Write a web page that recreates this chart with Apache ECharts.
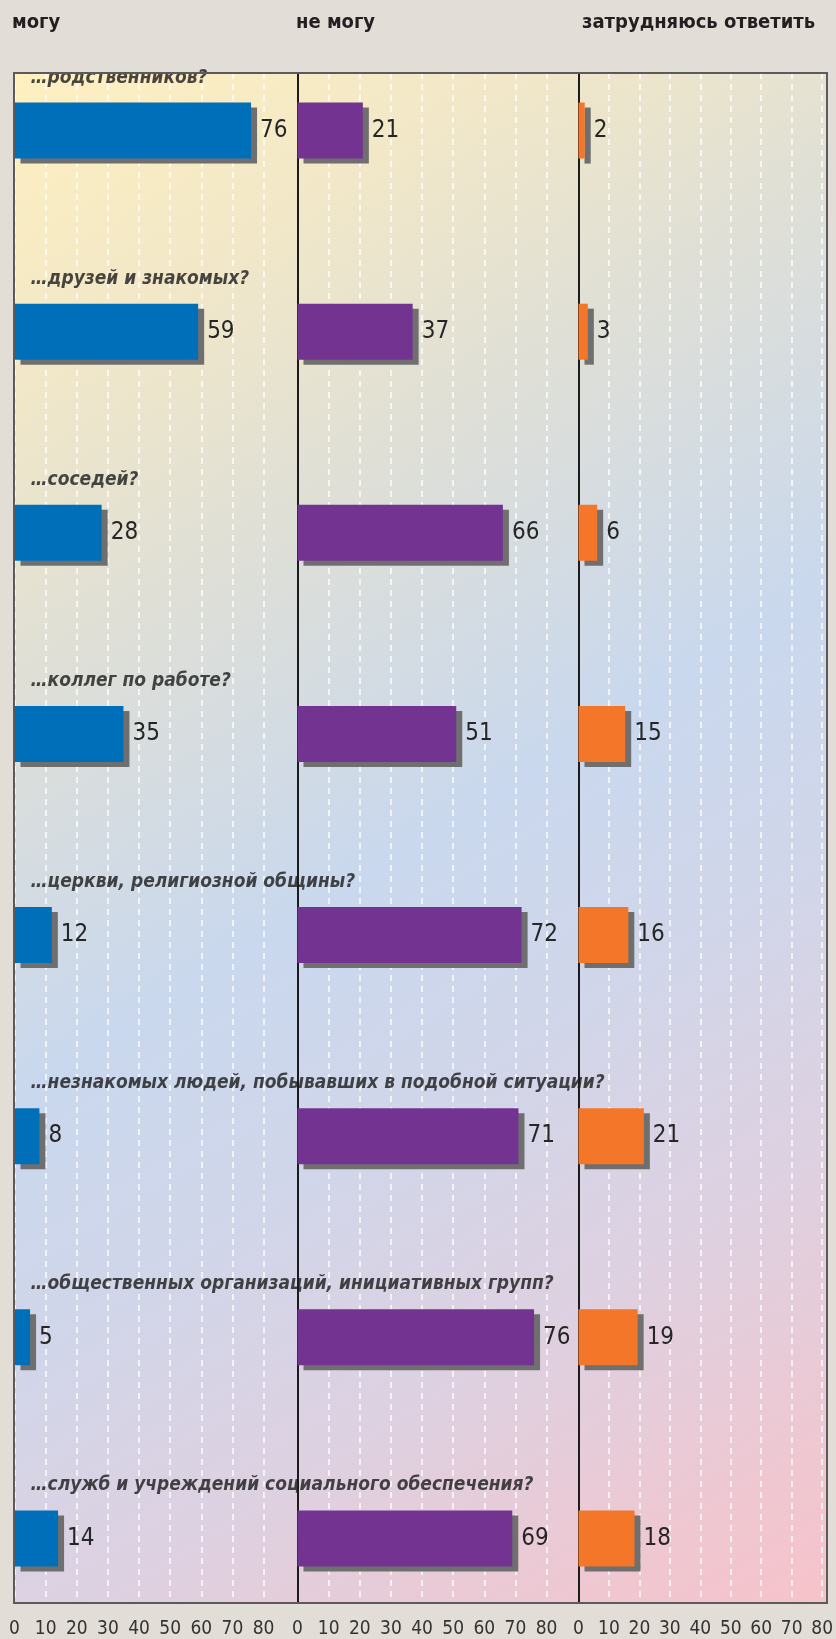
<!DOCTYPE html>
<html>
<head>
<meta charset="utf-8">
<script src="https://cdn.jsdelivr.net/npm/echarts@6/dist/echarts.min.js"></script>
<style>
  html, body { margin: 0; padding: 0; background: #e2ddd6; }
  #chart { width: 836px; height: 1639px; }
</style>
</head>
<body>
<div id="chart"></div>
<script>
// ---- data ----
const categories = [
  '…родственников?',
  '…друзей и знакомых?',
  '…соседей?',
  '…коллег по работе?',
  '…церкви, религиозной общины?',
  '…незнакомых людей, побывавших в подобной ситуации?',
  '…общественных организаций, инициативных групп?',
  '…служб и учреждений социального обеспечения?'
];
const panelTitles = ['могу', 'не могу', 'затрудняюсь ответить'];
const canValues = [76, 59, 28, 35, 12, 8, 5, 14];
const cannotValues = [21, 37, 66, 51, 72, 71, 76, 69];
const hardValues = [2, 3, 6, 15, 16, 21, 19, 18];
const tickValues = [0, 10, 20, 30, 40, 50, 60, 70, 80];

// ---- layout / style ----
const FONT = "'DejaVu Sans Condensed', 'Liberation Sans Narrow', sans-serif";
const panelLeft = [14.5, 297.5, 578.5];
const panelWidth = 249;
const plotTop = 73, plotHeight = 1530;
const barTop = 30, barHeight = 1617;
const colors = ['#006fba', '#733391', '#f47628'];
const seriesValues = [canValues, cannotValues, hardValues];

const chart = echarts.init(document.getElementById('chart'), null, { renderer: 'canvas' });

const grids = [{
  left: 14, top: plotTop, width: 813, height: plotHeight, show: true, borderWidth: 0,
  backgroundColor: {
    type: 'linear', global: true, x: 14, y: 73, x2: 931, y2: 1544,
    colorStops: [
      { offset: 0, color: '#fff0c0' },
      { offset: 0.15, color: '#f2e8c8' },
      { offset: 0.3, color: '#dfdfd6' },
      { offset: 0.5, color: '#c9d8ee' },
      { offset: 0.62, color: '#d0d6ea' },
      { offset: 0.77, color: '#ddd1e1' },
      { offset: 1, color: '#f8c2c9' }
    ]
  }
}];
const xAxes = [{ gridIndex: 0, type: 'value', show: false }];
const yAxes = [{ gridIndex: 0, type: 'value', show: false }];

for (let p = 0; p < 3; p++) {
  grids.push({ left: panelLeft[p], top: plotTop, width: panelWidth, height: plotHeight });
  xAxes.push({
    gridIndex: p + 1, type: 'value', min: 0, max: 80, interval: 10, position: 'bottom',
    axisLine: { show: false }, axisTick: { show: false },
    axisLabel: { show: true, margin: 18, fontSize: 19, fontFamily: FONT, color: '#333',
      customValues: tickValues },
    splitLine: { show: true, lineStyle: { color: 'rgba(255,255,255,0.95)', width: 1.5, type: [6, 5] } }
  });
  yAxes.push({
    gridIndex: p + 1, type: 'value', min: 0, max: 1, z: 5,
    axisLine: { show: p > 0, lineStyle: { color: '#1c1c1c', width: 2 } },
    axisTick: { show: false }, axisLabel: { show: false }, splitLine: { show: false }
  });
}
for (let p = 0; p < 3; p++) {
  grids.push({ left: panelLeft[p], top: barTop, width: panelWidth, height: barHeight });
  xAxes.push({ gridIndex: p + 4, type: 'value', min: 0, max: 80, show: false });
  yAxes.push({ gridIndex: p + 4, type: 'category', data: categories, inverse: true, show: false });
}

const series = [];
for (let p = 0; p < 3; p++) {
  series.push({
    type: 'bar', xAxisIndex: p + 4, yAxisIndex: p + 4,
    data: seriesValues[p], barWidth: 56, z: 5,
    itemStyle: { color: colors[p], shadowColor: '#6f6f6f', shadowOffsetX: 6, shadowOffsetY: 5, shadowBlur: 0 },
    label: { show: true, position: 'right', distance: 9, fontSize: 24, fontFamily: FONT, color: '#262626' },
    emphasis: { disabled: true }, silent: true, animation: false
  });
}
series.push({
  type: 'scatter', xAxisIndex: 4, yAxisIndex: 4, symbolSize: 0, z: 6,
  data: categories.map(c => ({ value: [0, c], name: c })),
  label: {
    show: true, position: 'right', distance: 0, offset: [16, -53], formatter: '{b}',
    fontSize: 19, fontWeight: 'bold', fontStyle: 'italic', fontFamily: FONT, color: '#1a1a1a'
  },
  emphasis: { disabled: true }, silent: true, animation: false
});

const titleLeft = [12, 296, 582];
chart.setOption({
  backgroundColor: '#e2ddd6',
  animation: false,
  title: panelTitles.map((t, i) => ({
    text: t, left: titleLeft[i], top: 13, padding: 0,
    textStyle: { fontSize: 20, fontWeight: 'bold', fontFamily: FONT, color: '#231f20' }
  })),
  grid: grids,
  xAxis: xAxes,
  yAxis: yAxes,
  series: series,
  graphic: [{
    type: 'rect', z: 100, silent: true,
    shape: { x: 14, y: 73, width: 813, height: 1530 },
    style: { fill: null, stroke: '#5b5b5b', lineWidth: 2 }
  }]
});
</script>
</body>
</html>
